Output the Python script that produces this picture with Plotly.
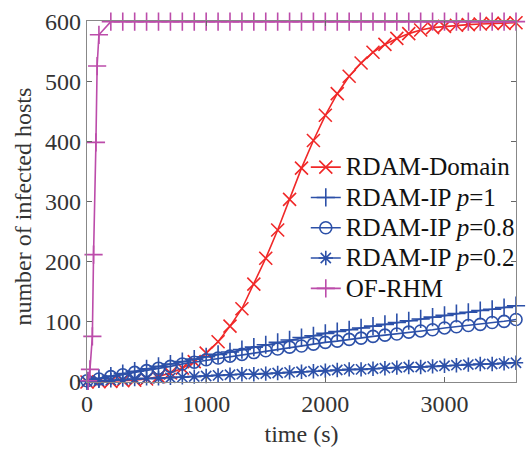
import plotly.graph_objects as go

# ---- data ----
t = list(range(0, 3700, 100))

rdam_domain = [0, 0.5, 1, 2, 3, 5, 9, 15, 23, 34, 48, 67, 93, 122, 163, 206, 253, 304,
               356, 402, 444, 480, 509, 531, 549, 562, 572, 580, 586, 590, 592, 594,
               595, 596, 597, 597, 598]
rdam_ip_p1 = [2, 6, 10, 14, 18, 22, 26, 30, 34, 38, 42, 46, 50, 54, 58, 62, 66, 70, 74,
              77, 81, 84, 87, 90, 93, 96, 99, 102, 105, 108, 111, 114, 116, 119, 121,
              124, 127]
rdam_ip_p08 = [2, 5, 9, 12, 16, 19, 23, 26, 30, 33, 37, 40, 43, 46, 49, 52, 55, 58, 60,
               63, 66, 68, 71, 73, 76, 78, 80, 83, 85, 87, 90, 92, 94, 96, 99, 101, 104]
rdam_ip_p02 = [1, 2, 3, 4, 5, 6, 6, 7, 8, 9, 10, 11, 12, 13, 13, 14, 15, 16, 17, 18, 19,
               20, 21, 21, 22, 23, 24, 25, 25, 26, 27, 28, 29, 30, 30, 31, 32]
ofrhm_t = [10, 25, 45, 55, 75, 85, 100] + list(range(200, 3700, 100))
ofrhm = [2, 21, 76, 212, 399, 526, 578] + [600] * 35

series_names = ["RDAM-Domain", "RDAM-IP <i>p</i>=1", "RDAM-IP <i>p</i>=0.8",
                "RDAM-IP <i>p</i>=0.2", "OF-RHM"]
x_ticks = [0, 1000, 2000, 3000]
y_ticks = [0, 100, 200, 300, 400, 500, 600]

RED = "#F02828"
BLUE = "#2C50A8"
MAG = "#BC4CAA"
FONT = "'Liberation Serif'"

fig = go.Figure()

def add(x, y, name, color, symbol, size):
    fig.add_trace(go.Scatter(
        x=x, y=y, name='<span style="font-size:25px">' + name + '</span>',
        mode="lines+markers", cliponaxis=False,
        line=dict(color=color, width=1.6),
        marker=dict(symbol=symbol, size=size, color=color,
                    line=dict(color=color, width=1.6)),
    ))

add(t, rdam_domain, series_names[0], RED, "x-thin-open", 13)
add(t, rdam_ip_p1, series_names[1], BLUE, "cross-thin-open", 13)
add(t, rdam_ip_p08, series_names[2], BLUE, "circle-open", 12)
add(t, rdam_ip_p02, series_names[3], BLUE, "asterisk-open", 12)
add(ofrhm_t, ofrhm, series_names[4], MAG, "cross-thin-open", 13)

axis_common = dict(
    showline=True, linecolor="#888888", linewidth=1.2, mirror="ticks",
    ticks="inside", ticklen=5, tickcolor="#666666", tickwidth=1,
    showgrid=False, zeroline=False,
    tickfont=dict(family=FONT, size=24, color="#333333"),
)

fig.update_layout(
    width=527, height=452,
    margin=dict(l=87, r=7, t=21, b=70),
    paper_bgcolor="white", plot_bgcolor="white",
    font=dict(family=FONT, size=24, color="#222222"),
    xaxis=dict(range=[0, 3600], tickvals=x_ticks,
               title=dict(text="time (s)", font=dict(family=FONT, size=24, color="#333333"),
                          standoff=9),
               **axis_common),
    yaxis=dict(range=[0, 601], tickvals=y_ticks, **axis_common),
    legend=dict(x=0.51, y=0.651, xanchor="left", yanchor="top",
                bgcolor="rgba(255,255,255,0)", borderwidth=0,
                font=dict(family=FONT, size=21, color="#111111"),
                tracegroupgap=0, itemwidth=30),
    showlegend=True,
    annotations=[dict(text="number of infected hosts", textangle=-90,
                      xref="paper", yref="paper", x=-0.150, y=0.485,
                      xanchor="center", yanchor="middle", showarrow=False,
                      font=dict(family=FONT, size=24, color="#333333"))],
)

fig.write_html("out.html")
